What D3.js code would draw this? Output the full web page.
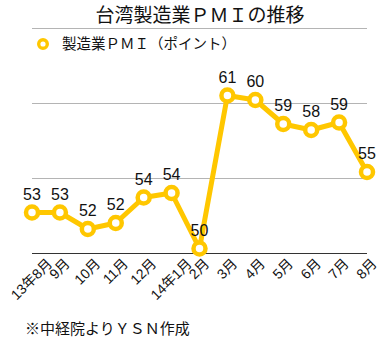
<!DOCTYPE html>
<html>
<head>
<meta charset="utf-8">
<script src="https://cdn.jsdelivr.net/npm/d3@7"></script>
<style>
    body { margin: 0; background: #fff; }
    svg { display: block; font-family: "Liberation Sans", "Noto Sans CJK JP", sans-serif; }
</style>
</head>
<body>
<div id="chart"></div>
<script>
// months on the x axis
const months = ['13年8月', '9月', '10月', '11月', '12月', '14年1月', '2月', '3月', '4月', '5月', '6月', '7月', '8月']
// manufacturing PMI (points)
const pmi = [52.7, 52.7, 51.6, 52.0, 53.7, 54.0, 50.3, 60.5, 60.2, 58.6, 58.2, 58.7, 55.4]
const yTicks = [50, 55, 60, 65]

const title = '台湾製造業ＰＭＩの推移'
const seriesName = '製造業ＰＭＩ（ポイント）'
const note = '※中経院よりＹＳＮ作成'

const renderChart = () => {

    const width = 388
    const height = 343
    const gold = '#ffc700'

    //plot area edges
    const margin = { top: 28, right: 21, bottom: 90, left: 32 }

    const xScale = d3.scalePoint()
        .domain(months)
        .range([margin.left, width - margin.right])

    const yScale = d3.scaleLinear()
        .domain([50, 65])
        .range([height - margin.bottom, margin.top])

    const data = months.map((m, i) => ({ month: m, value: pmi[i] }))

    const svg = d3.select('#chart')
        .append('svg')
            .attr('width', width)
            .attr('height', height)

    //horizontal gridlines, the bottom one doubles as the axis
    svg.append('g')
        .selectAll('line')
        .data(yTicks)
        .enter()
        .append('line')
            .attr('x1', margin.left)
            .attr('x2', width - margin.right)
            .attr('y1', d => yScale(d) + 0.5)
            .attr('y2', d => yScale(d) + 0.5)
            .style('stroke', d => d === 50 ? '#333' : '#b4b4b4')
            .style('stroke-width', 1)

    //x axis labels, rotated 45deg and centred under each point
    const xAxis = d3.axisBottom(xScale).tickSize(0).tickPadding(0)
    const xAxisG = svg.append('g')
        .attr('transform', `translate(0, ${yScale(50)})`)
        .call(xAxis)
    xAxisG.select('.domain').remove()
    xAxisG.selectAll('.tick text')
        .style('font-size', '14px')
        .style('font-family', '"Liberation Sans", "Noto Sans CJK JP", sans-serif')
        .style('fill', '#111')
        .attr('text-anchor', 'middle')
        .attr('y', 0)
        .attr('dy', '0.35em')
        .attr('transform', function() {
            const len = this.getComputedTextLength()
            return `translate(-1, ${8 + len * 0.354}) rotate(-45)`
        })

    //the series line
    const line = d3.line()
        .x(d => xScale(d.month))
        .y(d => yScale(d.value))

    svg.append('path')
        .datum(data)
        .attr('d', line)
        .style('fill', 'none')
        .style('stroke', gold)
        .style('stroke-width', 5)
        .style('stroke-linejoin', 'round')

    svg.append('g')
        .selectAll('circle')
        .data(data)
        .enter()
        .append('circle')
            .attr('cx', d => xScale(d.month))
            .attr('cy', d => yScale(d.value))
            .attr('r', 6)
            .style('fill', '#fff')
            .style('stroke', gold)
            .style('stroke-width', 4.5)

    //value labels above each point
    svg.append('g')
        .selectAll('text')
        .data(data)
        .enter()
        .append('text')
            .attr('x', d => xScale(d.month))
            .attr('y', d => yScale(d.value) - 13)
            .attr('text-anchor', 'middle')
            .style('font-size', '16px')
            .style('fill', '#111')
            .text(d => Math.round(d.value))

    //title
    svg.append('text')
        .attr('x', 200)
        .attr('y', 22)
        .attr('text-anchor', 'middle')
        .style('font-size', '19px')
        .style('fill', '#111')
        .text(title)

    //legend
    svg.append('circle')
        .attr('cx', 43)
        .attr('cy', 44)
        .attr('r', 4.3)
        .style('fill', '#fff')
        .style('stroke', gold)
        .style('stroke-width', 3.4)

    svg.append('text')
        .attr('x', 62)
        .attr('y', 49)
        .style('font-size', '14.5px')
        .style('fill', '#111')
        .text(seriesName)

    //source note
    svg.append('text')
        .attr('x', 25)
        .attr('y', 334)
        .style('font-size', '15px')
        .style('fill', '#111')
        .text(note)
}

renderChart()
</script>
</body>
</html>
